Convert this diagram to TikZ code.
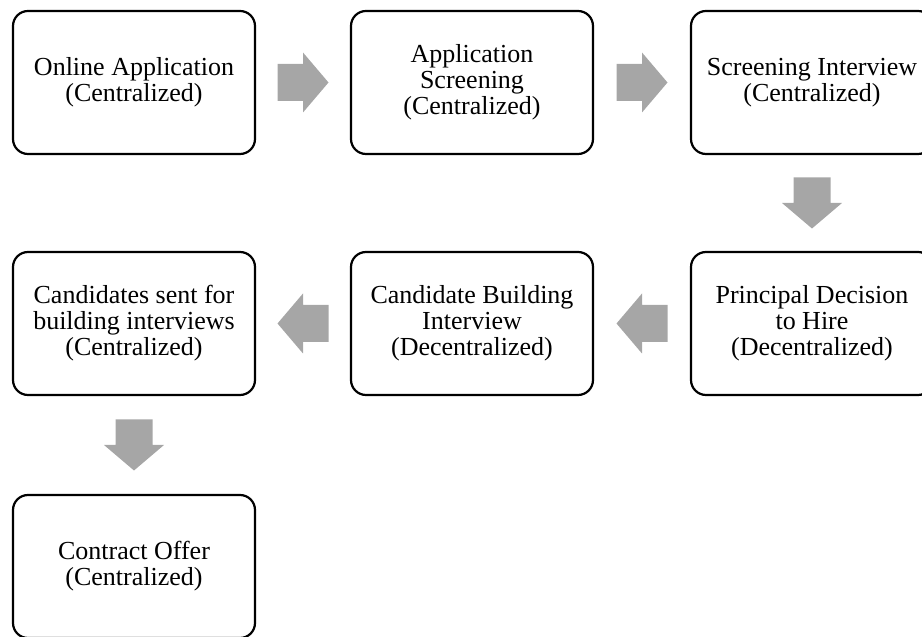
\documentclass[tikz,border=0pt]{standalone}
\usepackage{fontspec}
\setmainfont{Liberation Serif}
\usetikzlibrary{calc}
\definecolor{arrowgray}{HTML}{A6A6A6}
\tikzset{
  stage/.style={draw=black, line width=2.2pt, rounded corners=15pt, fill=white,
    minimum width=242pt, minimum height=143pt, align=center, inner sep=0pt,
    font=\fontsize{26}{26}\selectfont},
  blockarrow/.pic={\fill[arrowgray] (-25.5,-18.5) -- (0,-18.5) -- (0,-30) -- (25.5,0) -- (0,30) -- (0,18.5) -- (-25.5,18.5) -- cycle;}
}
\begin{document}
\begin{tikzpicture}[x=1pt,y=1pt]
\useasboundingbox (0,0) rectangle (922,637);
\node[stage] (n1) at (134,554.5) {Online Application\\(Centralized)};
\node[stage] (n2) at (472,554.5) {Application\\Screening\\(Centralized)};
\node[stage] (n3) at (812,554.5) {Screening Interview\\(Centralized)};
\node[stage] (n4) at (812,313.5) {Principal Decision\\to Hire\\(Decentralized)};
\node[stage] (n5) at (472,313.5) {Candidate Building\\Interview\\(Decentralized)};
\node[stage] (n6) at (134,313.5) {Candidates sent for\\building interviews\\(Centralized)};
\node[stage] (n7) at (134,70.5) {Contract Offer\\(Centralized)};
\path ($(n1.east)!0.5!(n2.west)$) pic {blockarrow};
\path ($(n2.east)!0.5!(n3.west)$) pic {blockarrow};
\path ($(n3.south)!0.5!(n4.north)$) pic[rotate=-90] {blockarrow};
\path ($(n4.west)!0.5!(n5.east)$) pic[rotate=180] {blockarrow};
\path ($(n5.west)!0.5!(n6.east)$) pic[rotate=180] {blockarrow};
\path ($(n6.south)!0.5!(n7.north)$) pic[rotate=-90] {blockarrow};
\end{tikzpicture}
\end{document}
